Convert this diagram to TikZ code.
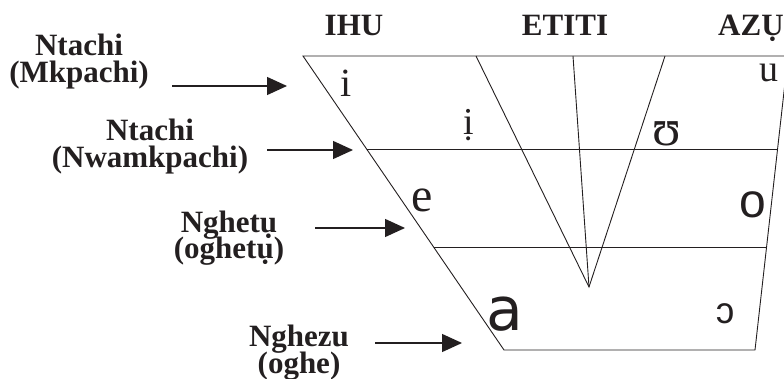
\documentclass[tikz,border=0pt]{standalone}
\usepackage{fontspec}
\setmainfont{Liberation Serif}
\newfontfamily\labfont{Liberation Serif Bold}
\newfontfamily\sansv{Liberation Sans}
\newfontfamily\asans{DejaVu Sans}
\usetikzlibrary{arrows.meta,calc}
\definecolor{ink}{HTML}{231F20}
\newcommand\twolines[2]{\vbox{\baselineskip=27pt\lineskiplimit=-100pt\lineskip=0pt
  \halign{\hfil##\hfil\cr#1\cr#2\cr}}}
\begin{document}
\begin{tikzpicture}[x=1pt,y=-1pt,
  lab/.style={font=\labfont\fontsize{31}{31}\selectfont, inner sep=0pt, text=ink, anchor=base},
  ln/.style={line width=0.9pt, draw=ink},
  arr/.style={line width=1.3pt, draw=ink, fill=ink, -{Triangle[length=20pt,width=18pt]}},
  vow/.style={inner sep=0pt, anchor=base, text=ink}]
\useasboundingbox (0,0) rectangle (784,379);
% chart frame
\coordinate (TL) at (303,56);
\coordinate (BL) at (504,350);
\coordinate (BR) at (755,350);
\coordinate (TR) at (788,56);
\coordinate (TE) at (784,56);
\begin{scope}
\clip (0,0) rectangle (784,379);
\draw[ln] (TE) -- (TL) -- (BL) -- (BR) -- (TR);
\end{scope}
\coordinate (L2l) at ($(TL)!0.3163!(BL)$);
\coordinate (L2r) at ($(BR)!0.6837!(TR)$);
\coordinate (L3l) at ($(TL)!0.6497!(BL)$);
\coordinate (L3r) at ($(BR)!0.3503!(TR)$);
\draw[ln] (L2l) -- (L2r);
\draw[ln] (L3l) -- (L3r);
% central lines
\coordinate (V) at (589,287);
\coordinate (C1) at (476,56);
\coordinate (C2) at (573,56);
\coordinate (C3) at (665,56);
\draw[ln] (C1) -- (V) -- (C3);
\draw[ln] (C2) -- (V);
% column labels
\node[lab] (ihu) at (354,36) {IHU};
\node[lab] (etiti) at (565,36) {ETITI};
\node[lab, anchor=base west] (azu) at (718,36) {AZỤ};
% row labels (anchor = baseline of second line)
\node[lab] (r1) at (79,83) {\twolines{Ntachi}{(Mkpachi)}};
\node[lab] (r2) at (150,168) {\twolines{Ntachi}{(Nwamkpachi)}};
\node[lab] (r3) at (229,259) {\twolines{Nghetụ}{(oghetụ)}};
\node[lab] (r4) at (299,373) {\twolines{Nghezu}{(oghe)}};
% arrows
\coordinate (a1s) at (172,86);  \coordinate (a1e) at (287,86);
\coordinate (a2s) at (267,150); \coordinate (a2e) at (353,150);
\coordinate (a3s) at (315,228); \coordinate (a3e) at (405,228);
\coordinate (a4s) at (375,343); \coordinate (a4e) at (462,343);
\draw[arr] (a1s) -- (a1e);
\draw[arr] (a2s) -- (a2e);
\draw[arr] (a3s) -- (a3e);
\draw[arr] (a4s) -- (a4e);
% vowels
\node[vow, font=\fontsize{40}{40}\selectfont] (vi) at (346,97) {i};
\node[vow, font=\fontsize{38}{38}\selectfont] (vidot) at (469,135) {ị};
\node[vow, font=\fontsize{52}{52}\selectfont] (vup) at (667,146) {ʊ};
\node[vow, font=\fontsize{38}{38}\selectfont] (vu) at (769,82) {u};
\node[vow, font=\fontsize{48}{48}\selectfont] (ve) at (422,212) {e};
\node[vow, font=\sansv\fontsize{48}{48}\selectfont] (vo) at (753,218) {o};
\node[vow, font=\sansv\fontsize{37}{37}\selectfont] (vopen) at (725,323) {ɔ};
\node[vow, font=\asans\fontsize{60}{60}\selectfont] (va) at (505,330) {a};
\end{tikzpicture}
\end{document}
